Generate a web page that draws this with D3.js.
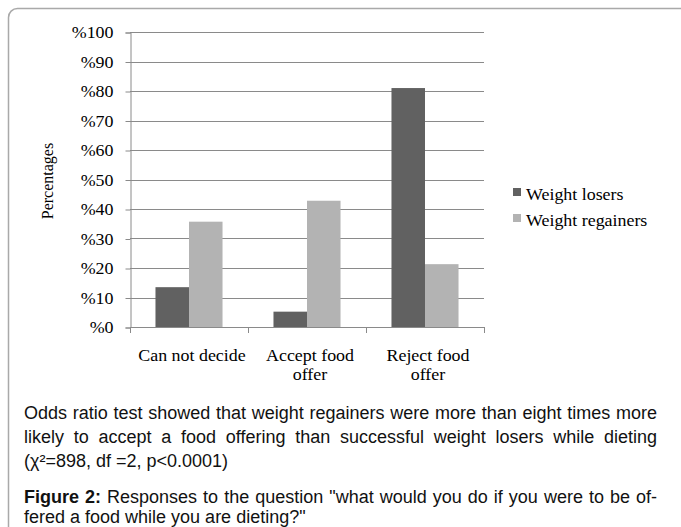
<!DOCTYPE html>
<html lang="en">
<head>
  <meta charset="UTF-8" />
  <title>Responses to food offering while dieting</title>
  <script src="https://d3js.org/d3.v7.min.js"></script>
  <style>
    body {
      margin: 0;
      background: #fff;
    }
    svg text.serif {
      font-family: 'Liberation Serif', 'Times New Roman', serif;
      font-size: 16px;
      fill: #000;
    }
    .caption {
      font-family: 'Liberation Sans', Arial, sans-serif;
      font-size: 18px;
      fill: #111;
    }
  </style>
</head>
<body>
  <div id="chart"></div>

  <script>
    // Data
    const categories = ["Can not decide", "Accept food offer", "Reject food offer"];
    const categoryLines = [["Can not decide"], ["Accept food", "offer"], ["Reject food", "offer"]];
    const seriesNames = ["Weight losers", "Weight regainers"];
    const weightLosers = [13.5, 5.2, 81];
    const weightRegainers = [35.7, 42.8, 21.3];
    const yTicks = [0, 10, 20, 30, 40, 50, 60, 70, 80, 90, 100];
    const seriesColors = ["#616161", "#b3b3b3"];

    const captionLines = [
      "Odds ratio test showed that weight regainers were more than eight times more",
      "likely to accept a food offering than successful weight losers while dieting",
      "(\u03c7\u00b2=898, df =2, p<0.0001)"
    ];
    const figureLines = [
      "Responses to the question \"what would you do if you were to be of-",
      "fered a food while you are dieting?\""
    ];

    const width = 681, height = 527;
    const stretch = 1.12; // the original text is slightly wide

    const svg = d3.select("#chart").append("svg")
      .attr("width", width)
      .attr("height", height);

    // outer frame (runs off right / bottom)
    svg.append("rect")
      .attr("x", 8.5).attr("y", 8.5)
      .attr("width", 700).attr("height", 560)
      .attr("rx", 9)
      .attr("fill", "none")
      .attr("stroke", "#a9a9a9")
      .attr("stroke-width", 1.5);

    const plot = { left: 130, right: 484, top: 32, bottom: 327 };

    const x = d3.scaleBand()
      .domain(categories)
      .range([plot.left, plot.right])
      .padding(0);

    const xs = d3.scaleBand()
      .domain(seriesNames)
      .range([0, x.bandwidth()])
      .paddingInner(0)
      .paddingOuter(0.76);

    const y = d3.scaleLinear()
      .domain([0, 100])
      .range([plot.bottom, plot.top]);

    const gridColor = "#8a8a8a";

    // gridlines
    svg.append("g")
      .selectAll("line")
      .data(yTicks.filter(d => d > 0))
      .join("line")
      .attr("x1", plot.left).attr("x2", plot.right)
      .attr("y1", d => Math.round(y(d)) + 0.5)
      .attr("y2", d => Math.round(y(d)) + 0.5)
      .attr("stroke", gridColor);

    // bars
    const table = categories.map((c, i) => ({
      category: c,
      values: [weightLosers[i], weightRegainers[i]]
    }));

    const groups = svg.append("g")
      .selectAll("g")
      .data(table)
      .join("g")
      .attr("transform", d => `translate(${x(d.category)},0)`);

    groups.selectAll("rect")
      .data(d => d.values.map((v, j) => ({ series: seriesNames[j], value: v, j })))
      .join("rect")
      .attr("x", d => xs(d.series))
      .attr("y", d => y(d.value))
      .attr("width", xs.bandwidth())
      .attr("height", d => y(0) - y(d.value))
      .attr("fill", d => seriesColors[d.j]);

    // y axis
    const yAxis = d3.axisLeft(y)
      .tickValues(yTicks)
      .tickFormat(d => "%" + d)
      .tickSize(5);

    const yg = svg.append("g")
      .attr("transform", `translate(${plot.left + 0.5},0.5)`)
      .call(yAxis);
    yg.select(".domain").attr("stroke", gridColor);
    yg.selectAll(".tick line").attr("stroke", gridColor);
    yg.selectAll(".tick text")
      .attr("class", "serif")
      .attr("x", -17 / stretch)
      .attr("transform", `scale(${stretch},1)`);

    // x axis
    const xTickPos = categories.map(c => x(c)).concat([plot.right]);
    const xg = svg.append("g");
    xg.append("line")
      .attr("x1", plot.left).attr("x2", plot.right)
      .attr("y1", plot.bottom + 0.5).attr("y2", plot.bottom + 0.5)
      .attr("stroke", gridColor);
    xg.selectAll("line.tick")
      .data(xTickPos)
      .join("line")
      .attr("class", "tick")
      .attr("x1", d => d + 0.5).attr("x2", d => d + 0.5)
      .attr("y1", plot.bottom).attr("y2", plot.bottom + 6)
      .attr("stroke", gridColor);

    // category labels
    categories.forEach((c, i) => {
      const cx = x(c) + x.bandwidth() / 2 + 3;
      const t = svg.append("text")
        .attr("class", "serif")
        .attr("text-anchor", "middle")
        .attr("transform", `translate(${cx},361) scale(${stretch},1)`);
      categoryLines[i].forEach((line, k) => {
        t.append("tspan").attr("x", 0).attr("y", k * 19).text(line);
      });
    });

    // y axis title
    svg.append("text")
      .attr("class", "serif")
      .attr("text-anchor", "middle")
      .attr("transform", "translate(53,181) rotate(-90)")
      .text("Percentages");

    // legend
    const legend = svg.append("g")
      .selectAll("g")
      .data(seriesNames)
      .join("g")
      .attr("transform", (d, i) => `translate(513,${188 + i * 26})`);
    legend.append("rect")
      .attr("width", 8).attr("height", 8)
      .attr("fill", (d, i) => seriesColors[i]);
    legend.append("text")
      .attr("class", "serif")
      .attr("transform", `translate(13,12) scale(${stretch},1)`)
      .text(d => d);

    // caption text (justified like the source page)
    const textLeft = 24, textRight = 657;

    function justify(sel) {
      const n = (sel.text().match(/ /g) || []).length;
      const natural = sel.node().getComputedTextLength();
      if (n > 0) sel.attr("word-spacing", (textRight - textLeft - natural) / n);
    }

    captionLines.forEach((line, i) => {
      const t = svg.append("text")
        .attr("class", "caption")
        .attr("x", textLeft)
        .attr("y", 419 + i * 24)
        .text(line);
      if (i < captionLines.length - 1) justify(t);
    });

    figureLines.forEach((line, i) => {
      const t = svg.append("text")
        .attr("class", "caption")
        .attr("x", textLeft)
        .attr("y", 503 + i * 20);
      if (i === 0) {
        t.append("tspan").attr("font-weight", "bold").text("Figure 2:");
        t.append("tspan").text(" " + line);
        justify(t);
      } else {
        t.text(line);
      }
    });
  </script>
</body>
</html>
